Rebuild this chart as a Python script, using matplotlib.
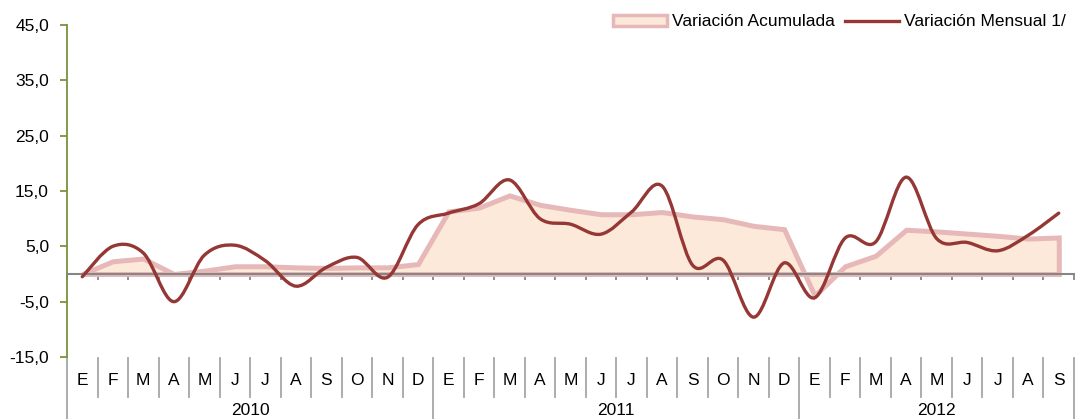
import numpy as np
import matplotlib
matplotlib.use("Agg")
import matplotlib.pyplot as plt
from matplotlib.path import Path
from matplotlib.patches import PathPatch, Patch
from matplotlib.lines import Line2D
import matplotlib.transforms as mtransforms

plt.rcParams['font.family'] = ['Liberation Sans', 'DejaVu Sans']

# data
meses = ['E', 'F', 'M', 'A', 'M', 'J', 'J', 'A', 'S', 'O', 'N', 'D'] * 2 + \
        ['E', 'F', 'M', 'A', 'M', 'J', 'J', 'A', 'S']
anios = ['2010', '2011', '2012']
meses_por_anio = [12, 12, 9]

acumulada = [0.0, 2.3, 2.8, 0.0, 0.6, 1.4, 1.4, 1.2, 1.1, 1.2, 1.2, 1.8,
             11.3, 12.0, 14.2, 12.5, 11.6, 10.8, 10.8, 11.2, 10.4, 9.9, 8.7, 8.1,
             -3.9, 1.4, 3.3, 8.0, 7.7, 7.3, 6.9, 6.4, 6.6]
mensual = [-0.5, 5.0, 3.8, -5.0, 3.4, 5.2, 2.4, -2.2, 1.2, 3.0, -0.6, 8.9,
           11.0, 12.7, 17.0, 10.0, 9.0, 7.2, 11.2, 15.9, 1.6, 2.5, -7.8, 2.0,
           -4.3, 6.5, 5.8, 17.5, 6.4, 5.7, 4.2, 7.0, 11.0]

c_linea = '#953735'
c_borde = '#E6B9B8'
c_relleno = '#FDE9D9'
c_verde = '#77933C'
c_gris = '#868686'

fig = plt.figure(figsize=(10.76, 4.19), dpi=100)
ax = fig.add_axes([67/1076, 1 - 357/419, (1074 - 67)/1076, 332/419])

x = np.arange(len(acumulada))

# area acumulada
ax.fill_between(x, 0, acumulada, facecolor=c_relleno, edgecolor=c_borde,
                linewidth=3.6, joinstyle='miter', zorder=2)

# linea mensual suavizada (bezier estilo Excel)
P = np.column_stack([x, mensual]).astype(float)
verts = [P[0]]
codes = [Path.MOVETO]
n = len(P)
for i in range(n - 1):
    p_prev = P[i - 1] if i > 0 else P[i]
    p_next2 = P[i + 2] if i + 2 < n else P[i + 1]
    c1 = P[i] + (P[i + 1] - p_prev) / 6
    c2 = P[i + 1] - (p_next2 - P[i]) / 6
    verts += [c1, c2, P[i + 1]]
    codes += [Path.CURVE4] * 3
ax.add_patch(PathPatch(Path(verts, codes), facecolor='none', edgecolor=c_linea,
                       linewidth=2.4, capstyle='round', zorder=4))

ax.set_xlim(-0.5, len(x) - 0.5)
ax.set_ylim(-15, 45)
ax.set_yticks(np.arange(-15, 46, 10))
ax.set_yticklabels([f'{v:.1f}'.replace('.', ',') for v in np.arange(-15, 46, 10)],
                   fontsize=12.5)

for s in ['top', 'right']:
    ax.spines[s].set_visible(False)
ax.spines['left'].set_color(c_verde)
ax.spines['left'].set_linewidth(1.3)
ax.spines['bottom'].set_position(('data', 0))
ax.spines['bottom'].set_color(c_gris)
ax.spines['bottom'].set_linewidth(1.5)
ax.spines['bottom'].set_zorder(3)
ax.tick_params(axis='y', colors=c_verde, length=5, width=1.3, pad=8,
               labelcolor='black')
ax.set_xticks(np.arange(-0.5, len(x), 1.0))
ax.set_xticklabels([])
ax.tick_params(axis='x', colors=c_gris, length=4, width=1.3, direction='out')

# etiquetas de categorias debajo
trans = mtransforms.blended_transform_factory(ax.transData, ax.transAxes)
for i, m in enumerate(meses):
    ax.text(i, -0.072, m, transform=trans, ha='center', va='center', fontsize=12.5)
bordes = np.cumsum([0] + meses_por_anio) - 0.5
for b in np.arange(-0.5, len(x), 1.0):
    largo = -0.187 if b in bordes else -0.12
    ax.add_line(Line2D([b, b], [-0.004, largo], transform=trans, color='#A6A6A6',
                       linewidth=1.3, clip_on=False))
for k, a in enumerate(anios):
    centro = (bordes[k] + bordes[k + 1]) / 2
    ax.text(centro, -0.162, a, transform=trans, ha='center', va='center', fontsize=12.5)

# leyenda
handles = [Patch(facecolor=c_relleno, edgecolor=c_borde, linewidth=2.5),
           Line2D([], [], color=c_linea, linewidth=2.4)]
fig.legend(handles, ['Variación Acumulada', 'Variación Mensual 1/'],
           loc='center right', bbox_to_anchor=(1.002, 1 - 22/419), ncol=2,
           frameon=False, fontsize=12.5, handlelength=3.1, handleheight=0.6,
           handletextpad=0.3, columnspacing=0.6, borderpad=0.2)

fig.savefig('out.png', dpi=100)
